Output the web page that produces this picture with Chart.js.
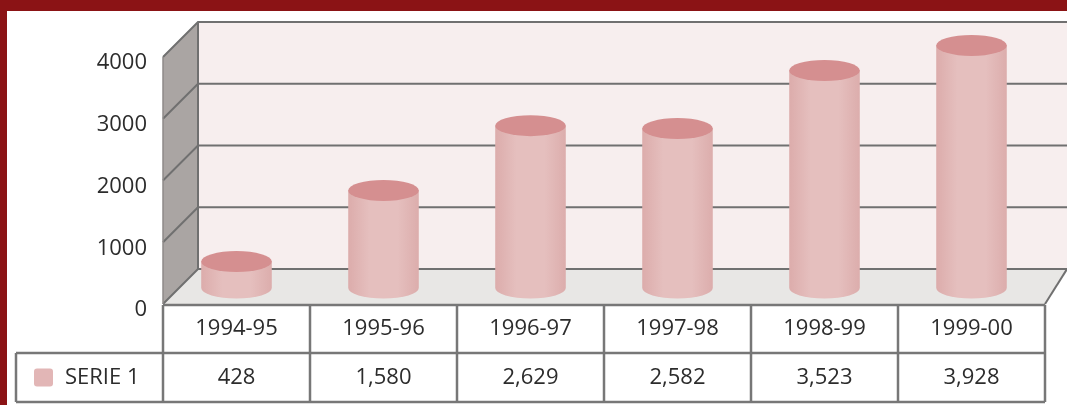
<!DOCTYPE html>
<html>
<head>
<meta charset="utf-8">
<script src="https://cdn.jsdelivr.net/npm/chart.js@4.4.1/dist/chart.umd.min.js"></script>
<style>
  html, body { margin: 0; padding: 0; }
  body { width: 1067px; height: 405px; background: #8b1315; overflow: hidden; position: relative; }
  #wrap { position: absolute; left: 7px; top: 11px; width: 1060px; height: 394px; background: #fff; }
</style>
</head>
<body>
<div id="wrap"><canvas id="serie-chart" width="1060" height="394"></canvas></div>
<script>
// Chart data
const years = ['1994-95', '1995-96', '1996-97', '1997-98', '1998-99', '1999-00'];
const serie1 = [428, 1580, 2629, 2582, 3523, 3928];
const yTicks = [0, 1000, 2000, 3000, 4000];
const serieName = 'SERIE 1';

const DEPTH = 35;   // 3D wall depth
const LIFT = 16;    // cylinders stand halfway into the floor
const textFont = { family: "'Open Sans', sans-serif", size: 22 };
const textColor = '#2c2c2c';
const lineColor = '#707070';

function poly(ctx, pts) {
    ctx.beginPath();
    ctx.moveTo(pts[0][0], pts[0][1]);
    for (let i = 1; i < pts.length; i++) ctx.lineTo(pts[i][0], pts[i][1]);
    ctx.closePath();
}

function line(ctx, pts) {
    ctx.beginPath();
    ctx.moveTo(pts[0][0], pts[0][1]);
    for (let i = 1; i < pts.length; i++) ctx.lineTo(pts[i][0], pts[i][1]);
    ctx.stroke();
}

// Back wall, side wall, floor and grid
const walls3d = {
    id: 'walls3d',
    beforeDatasetsDraw(chart) {
        const { ctx, chartArea: a, scales: { y } } = chart;
        const farRight = chart.width;
        const y0 = y.getPixelForValue(0);
        ctx.save();
        ctx.fillStyle = '#f7eeee';
        ctx.fillRect(a.left + DEPTH, a.top - DEPTH, farRight - a.left - DEPTH, y0 - a.top);
        ctx.fillStyle = '#aaa5a3';
        poly(ctx, [[a.left, a.top], [a.left + DEPTH, a.top - DEPTH], [a.left + DEPTH, y0 - DEPTH], [a.left, y0]]);
        ctx.fill();
        ctx.fillStyle = '#e8e7e5';
        poly(ctx, [[a.left, y0], [a.left + DEPTH, y0 - DEPTH], [farRight, y0 - DEPTH], [a.right, y0]]);
        ctx.fill();

        ctx.strokeStyle = lineColor;
        ctx.lineWidth = 2;
        y.ticks.forEach(t => {
            const py = y.getPixelForValue(t.value);
            line(ctx, [[a.left, py], [a.left + DEPTH, py - DEPTH], [farRight, py - DEPTH]]);
        });
        line(ctx, [[a.left + DEPTH, a.top - DEPTH], [a.left + DEPTH, y0 - DEPTH]]);
        line(ctx, [[a.right, y0], [farRight, y0 - DEPTH]]);
        ctx.strokeStyle = '#8e8a88';
        ctx.lineWidth = 1.5;
        line(ctx, [[a.left, a.top], [a.left, y0]]);
        ctx.restore();
    }
};

// Bars drawn as cylinders
const cylinders = {
    id: 'cylinders',
    afterDatasetsDraw(chart) {
        const { ctx } = chart;
        const meta = chart.getDatasetMeta(0);
        ctx.save();
        meta.data.forEach(bar => {
            const rx = bar.width / 2, ry = 10.5;
            const top = bar.y - LIFT, bottom = bar.base - LIFT;
            const grad = ctx.createLinearGradient(bar.x - rx, 0, bar.x + rx, 0);
            grad.addColorStop(0, '#dcacab');
            grad.addColorStop(0.3, '#e5bfbe');
            grad.addColorStop(0.7, '#e5bfbe');
            grad.addColorStop(1, '#dcadac');
            ctx.fillStyle = grad;
            ctx.beginPath();
            ctx.moveTo(bar.x - rx, top);
            ctx.lineTo(bar.x - rx, bottom);
            ctx.ellipse(bar.x, bottom, rx, ry, 0, Math.PI, 0, true);
            ctx.lineTo(bar.x + rx, top);
            ctx.closePath();
            ctx.fill();
            ctx.fillStyle = '#d58f90';
            ctx.beginPath();
            ctx.ellipse(bar.x, top, rx, ry, 0, 0, Math.PI * 2);
            ctx.fill();
        });
        ctx.restore();
    }
};

// Data table under the chart
const dataTable = {
    id: 'dataTable',
    afterDraw(chart) {
        const { ctx, chartArea: a, scales: { x } } = chart;
        const colW = (x.right - x.left) / years.length;
        const rowTop = a.bottom + 1;
        const rowMid = rowTop + 48;
        const rowBot = rowMid + 49;
        const tableLeft = 9;
        ctx.save();
        ctx.strokeStyle = '#777777';
        ctx.lineWidth = 2.5;
        line(ctx, [[a.left, rowTop], [a.right, rowTop]]);
        line(ctx, [[tableLeft, rowMid], [a.right, rowMid]]);
        line(ctx, [[tableLeft, rowBot], [a.right, rowBot]]);
        line(ctx, [[tableLeft, rowMid], [tableLeft, rowBot]]);
        for (let i = 0; i <= years.length; i++) {
            const px = x.left + i * colW;
            line(ctx, [[px, rowTop], [px, rowBot]]);
        }

        const cy = (rowMid + rowBot) / 2;
        ctx.fillStyle = '#e2b6b6';
        ctx.beginPath();
        ctx.roundRect(27, cy - 9, 19, 18, 3);
        ctx.fill();

        ctx.fillStyle = textColor;
        ctx.font = `${textFont.size}px ${textFont.family}`;
        ctx.textBaseline = 'middle';
        ctx.textAlign = 'left';
        ctx.fillText(serieName, 58, cy);
        ctx.textAlign = 'center';
        serie1.forEach((v, i) => {
            ctx.fillText(v.toLocaleString('en-US'), x.getPixelForValue(i), cy);
        });
        ctx.restore();
    }
};

let serieChart = null;
function createSerieChart() {
    const ctx = document.getElementById('serie-chart').getContext('2d');
    serieChart = new Chart(ctx, {
        type: 'bar',
        data: {
            labels: years,
            datasets: [{
                label: serieName,
                data: serie1,
                backgroundColor: 'rgba(0, 0, 0, 0)',
                borderWidth: 0,
                barPercentage: 0.48,
                categoryPercentage: 1
            }]
        },
        options: {
            responsive: false,
            animation: false,
            events: [],
            layout: {
                padding: { top: 46, right: 22, left: 0, bottom: 0 }
            },
            plugins: {
                legend: { display: false },
                tooltip: { enabled: false }
            },
            scales: {
                x: {
                    grid: { display: false, drawTicks: false },
                    border: { display: false },
                    ticks: { padding: 12, color: textColor, font: textFont },
                    afterFit(scale) { scale.height = 101; }
                },
                y: {
                    min: 0,
                    max: 4000,
                    afterBuildTicks(scale) {
                        scale.ticks = yTicks.map(v => ({ value: v }));
                    },
                    grid: { display: false, drawTicks: false },
                    border: { display: false },
                    ticks: {
                        padding: 16,
                        labelOffset: 6,
                        color: textColor,
                        font: textFont,
                        callback: value => String(value)
                    },
                    afterFit(scale) { scale.width = 156; }
                }
            }
        },
        plugins: [walls3d, cylinders, dataTable]
    });
    return serieChart;
}

createSerieChart();
</script>
</body>
</html>
